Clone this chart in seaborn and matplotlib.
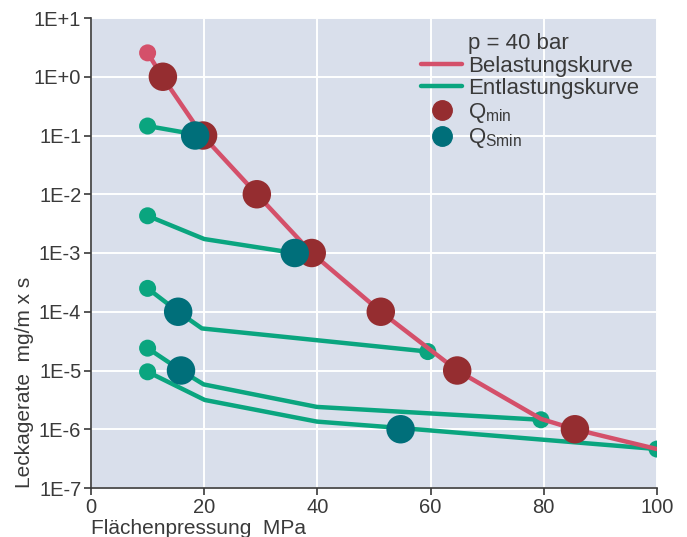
import numpy as np
import pandas as pd
import matplotlib
matplotlib.use("Agg")
import matplotlib.pyplot as plt
from matplotlib.lines import Line2D
import seaborn as sns

# Belastungskurve (loading curve)
bel_x = [10, 12.7, 19.7, 29.3, 39, 51.2, 64.7, 79.5, 85.5, 100]
bel_y = [2.55, 0.97, 0.1, 0.01, 1e-3, 1e-4, 1e-5, 1.5e-6, 1e-6, 4.6e-7]

# Entlastungskurven (unloading curves)
ent1_x = [10, 18.3, 19.9]
ent1_y = [0.145, 0.105, 0.1]
ent2_x = [10, 20, 35.9, 38.5]
ent2_y = [4.3e-3, 1.73e-3, 1e-3, 1e-3]
ent3_x = [10, 15.4, 19.6, 59.5]
ent3_y = [2.5e-4, 1e-4, 5.2e-5, 2.1e-5]
ent4_x = [10, 15.9, 19.9, 39.9, 79.5]
ent4_y = [2.4e-5, 1e-5, 5.8e-6, 2.4e-6, 1.45e-6]
ent5_x = [10, 20.1, 39.9, 54.7, 100]
ent5_y = [9.5e-6, 3.15e-6, 1.35e-6, 1.05e-6, 4.6e-7]

# Q_min and Q_Smin points
qmin_x = [12.7, 19.8, 29.3, 39, 51.2, 64.7, 85.5]
qmin_y = [1.0, 0.1, 0.01, 1e-3, 1e-4, 1e-5, 1e-6]
qsmin_x = [18.4, 36.0, 15.4, 15.9, 54.7]
qsmin_y = [0.1, 1e-3, 1e-4, 1e-5, 1e-6]

# small end dots on the green curves
dot_x = [10, 10, 10, 10, 10, 59.5, 79.5, 100]
dot_y = [0.145, 4.3e-3, 2.5e-4, 2.4e-5, 9.5e-6, 2.1e-5, 1.45e-6, 4.6e-7]

yticks = [1e1, 1e0, 1e-1, 1e-2, 1e-3, 1e-4, 1e-5, 1e-6, 1e-7]
ylabels = ["1E+1", "1E+0", "1E-1", "1E-2", "1E-3", "1E-4", "1E-5", "1E-6", "1E-7"]

red = "#d4506a"
darkred = "#952d30"
teal = "#006f7a"
green = "#0aa57f"
bg = "#d9dfeb"
txt = "#3a3a3a"

sns.set_theme(style="darkgrid", rc={"axes.facecolor": bg,
                                    "grid.color": "white",
                                    "grid.linewidth": 1.4})
plt.rcParams["font.family"] = ["Liberation Sans", "DejaVu Sans"]
plt.rcParams["mathtext.fontset"] = "custom"
plt.rcParams["mathtext.rm"] = "Liberation Sans"

fig = plt.figure(figsize=(6.87, 5.37), dpi=100)
ax = fig.add_axes([91/687, 1-488/537, 566/687, 470/537])

lw = 3.2
for xs, ys in [(ent1_x, ent1_y), (ent2_x, ent2_y), (ent3_x, ent3_y),
               (ent4_x, ent4_y), (ent5_x, ent5_y)]:
    df = pd.DataFrame({"x": xs, "y": ys})
    sns.lineplot(data=df, x="x", y="y", sort=False, color=green, lw=lw,
                 ax=ax, zorder=2)
sns.scatterplot(x=dot_x, y=dot_y, color=green, s=150,
                edgecolor="none", ax=ax, zorder=3)

df_bel = pd.DataFrame({"x": bel_x, "y": bel_y})
sns.lineplot(data=df_bel, x="x", y="y", sort=False, color=red, lw=lw,
             ax=ax, zorder=4)
sns.scatterplot(x=bel_x[:1], y=bel_y[:1], color=red, s=150,
                edgecolor="none", ax=ax, zorder=5)
sns.scatterplot(x=qmin_x, y=qmin_y, color=darkred, s=420,
                edgecolor="none", ax=ax, zorder=6)
sns.scatterplot(x=qsmin_x, y=qsmin_y, color=teal, s=420,
                edgecolor="none", ax=ax, zorder=7)

ax.set_yscale("log")
ax.set_xlim(0, 100)
ax.set_ylim(1e-7, 1e1)
ax.set_yticks(yticks)
ax.set_yticklabels(ylabels)
ax.minorticks_off()
ax.set_xticks([0, 20, 40, 60, 80, 100])
ax.grid(True, which="major", color="white", lw=1.4)

for s in ["top", "right"]:
    ax.spines[s].set_visible(False)
for s in ["left", "bottom"]:
    ax.spines[s].set_visible(True)
    ax.spines[s].set_color(txt)
    ax.spines[s].set_linewidth(1.2)
ax.tick_params(axis="both", direction="out", length=5, width=1.2,
               color=txt, labelsize=14.5, labelcolor=txt,
               left=True, bottom=True, pad=2)

ax.set_xlabel("Flächenpressung  MPa", fontsize=15, color=txt,
              loc="left", labelpad=2)
ax.set_ylabel("Leckagerate  mg/m x s", fontsize=15, color=txt,
              loc="bottom", labelpad=0)

handles = [
    Line2D([], [], color="none"),
    Line2D([], [], color=red, lw=lw),
    Line2D([], [], color=green, lw=lw),
    Line2D([], [], color=darkred, marker="o", ls="none", ms=14),
    Line2D([], [], color=teal, marker="o", ls="none", ms=14),
]
labels = ["p = 40 bar", "Belastungskurve", "Entlastungskurve",
          r"Q$_\mathregular{min}$", r"Q$_\mathregular{Smin}$"]
leg = ax.legend(handles, labels, loc="upper left",
                bbox_to_anchor=(410/687, 1-22/537),
                bbox_transform=fig.transFigure, frameon=False,
                fontsize=16, handlelength=1.85, handletextpad=0.25,
                labelspacing=0.07, borderpad=0)
for t in leg.get_texts():
    t.set_color(txt)

fig.savefig("out.png", dpi=100)
